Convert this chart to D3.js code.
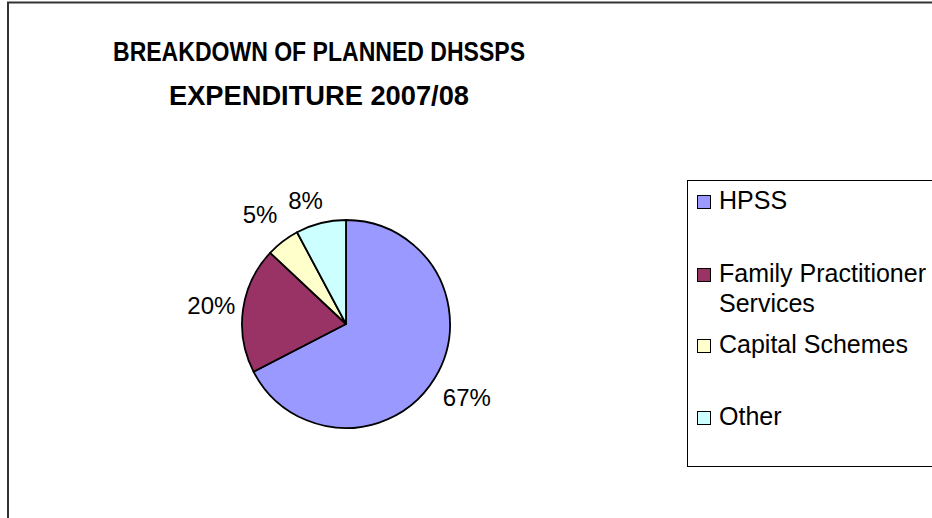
<!DOCTYPE html>
<html lang="en">
<head>
  <meta charset="UTF-8" />
  <title>Breakdown of Planned DHSSPS Expenditure 2007/08</title>
  <script src="https://d3js.org/d3.v7.min.js"></script>
  <style>
    body {
      margin: 0;
      padding: 0;
      background: #ffffff;
      font-family: "Liberation Sans", Arial, sans-serif;
    }
    #chart {
      width: 932px;
      height: 518px;
    }
  </style>
</head>
<body>
  <div id="chart"></div>

  <script>
    // data
    const categories = ["HPSS", "Family Practitioner Services", "Capital Schemes", "Other"];
    const shares = [67.4, 19.6, 5.2, 7.8];
    const sliceColors = ["#9999FF", "#993366", "#FFFFCC", "#CCFFFF"];
    const legendLines = [["HPSS"], ["Family Practitioner", "Services"], ["Capital Schemes"], ["Other"]];
    const titleLines = ["BREAKDOWN OF PLANNED DHSSPS", "EXPENDITURE 2007/08"];

    const width = 932, height = 518;

    const svg = d3.select("#chart")
      .append("svg")
      .attr("width", width)
      .attr("height", height);

    // chart area border (only left + top are visible in the crop)
    svg.append("path")
      .attr("d", "M8,518 V2.5 H932")
      .attr("fill", "none")
      .attr("stroke", "#333")
      .attr("stroke-width", 2);

    // title - the original font is a narrow bold, so squeeze it a bit
    const titleWidths = [412, 300];
    svg.append("g")
      .selectAll("text")
      .data(titleLines)
      .enter()
      .append("text")
      .attr("x", 319)
      .attr("y", (d, i) => 61 + i * 44)
      .attr("text-anchor", "middle")
      .attr("textLength", (d, i) => titleWidths[i])
      .attr("lengthAdjust", "spacingAndGlyphs")
      .style("font-size", "27px")
      .style("font-weight", "bold")
      .text(d => d);

    // pie
    const cx = 346, cy = 324, r = 104;
    const pie = d3.pie().sort(null).value(d => d.v);
    const arcs = pie(categories.map((c, i) => ({ name: c, v: shares[i], color: sliceColors[i] })));

    const arc = d3.arc().innerRadius(0).outerRadius(r);
    const labelArc = d3.arc().innerRadius(r + 34).outerRadius(r + 34);
    // small shifts so the labels sit where Excel put them
    const labelShift = [[3, 2], [2, 0], [-2, 0], [-7, 10]];

    const g = svg.append("g").attr("transform", `translate(${cx},${cy})`);

    g.selectAll("path")
      .data(arcs)
      .enter()
      .append("path")
      .attr("d", arc)
      .attr("fill", d => d.data.color)
      .attr("stroke", "#000")
      .attr("stroke-width", 1.8)
      .attr("stroke-linejoin", "round");

    g.selectAll("text")
      .data(arcs)
      .enter()
      .append("text")
      .attr("x", (d, i) => labelArc.centroid(d)[0] + labelShift[i][0])
      .attr("y", (d, i) => labelArc.centroid(d)[1] + labelShift[i][1] + 8.5)
      .attr("text-anchor", "middle")
      .style("font-size", "24px")
      .text(d => Math.round(d.data.v) + "%");

    // legend
    const legend = svg.append("g");
    legend.append("rect")
      .attr("x", 687.5)
      .attr("y", 180.5)
      .attr("width", 260)
      .attr("height", 286)
      .attr("fill", "#fff")
      .attr("stroke", "#000")
      .attr("stroke-width", 1);

    const legendBaselines = [209, 282, 353, 425];
    const item = legend.selectAll(".item")
      .data(categories)
      .enter()
      .append("g")
      .attr("class", "item");

    item.append("rect")
      .attr("x", 697.5)
      .attr("y", (d, i) => legendBaselines[i] - 13.5)
      .attr("width", 13)
      .attr("height", 13)
      .attr("fill", (d, i) => sliceColors[i])
      .attr("stroke", "#000")
      .attr("stroke-width", 1);

    item.append("text")
      .attr("x", 719)
      .attr("y", (d, i) => legendBaselines[i])
      .style("font-size", "25px")
      .selectAll("tspan")
      .data((d, i) => legendLines[i])
      .enter()
      .append("tspan")
      .attr("x", 719)
      .attr("dy", (d, j) => j === 0 ? 0 : 30)
      .text(d => d);
  </script>
</body>
</html>
